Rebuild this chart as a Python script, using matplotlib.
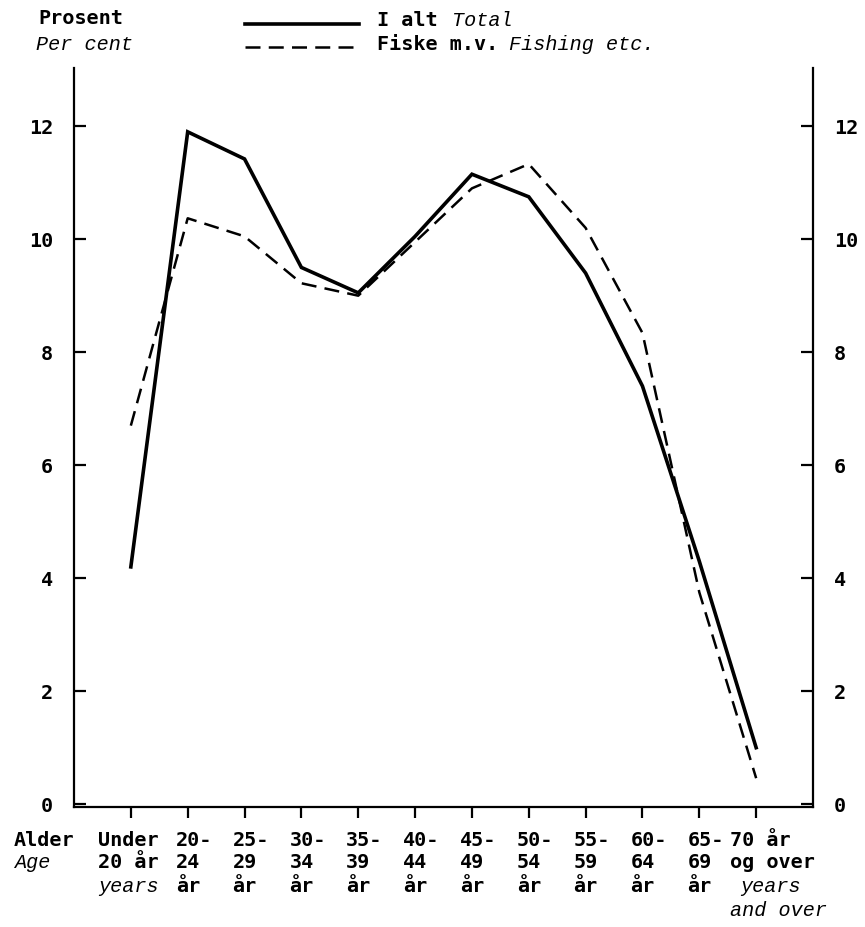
import matplotlib.pyplot as plt
import matplotlib.transforms as mtransforms

# age groups, one list of text lines per group (Norwegian + English)
age_lines = [
    ["Under", "20 år", "years"],
    ["20-", "24", "år"],
    ["25-", "29", "år"],
    ["30-", "34", "år"],
    ["35-", "39", "år"],
    ["40-", "44", "år"],
    ["45-", "49", "år"],
    ["50-", "54", "år"],
    ["55-", "59", "år"],
    ["60-", "64", "år"],
    ["65-", "69", "år"],
    ["70 år", "og over", "years", "and over"],
]
english_words = {"years", "and over"}

total = [4.2, 11.9, 11.42, 9.5, 9.05, 10.05, 11.15, 10.75, 9.4, 7.4, 4.3, 1.0]
fishing = [6.7, 10.37, 10.05, 9.22, 9.0, 9.95, 10.9, 11.33, 10.2, 8.34, 3.75, 0.46]

y_ticks = [0, 2, 4, 6, 8, 10, 12]

MONO = "DejaVu Sans Mono"
ITAL = "Liberation Mono"
FS = 14.5
DASH = (6, 3.3)


def main():
    W, H = 865, 927
    fig = plt.figure(figsize=(W / 100, H / 100), dpi=100)
    ax = fig.add_axes([74 / W, 1 - 807 / H, (813 - 74) / W, (807 - 68) / H])

    x = list(range(len(age_lines)))
    ax.plot(x, total, color="black", lw=2.6, solid_joinstyle="miter")
    ax.plot(x, fishing, color="black", lw=1.8, dashes=DASH)

    ax.set_xlim(-1, 12)
    ax.set_ylim(-0.05, 13.03)

    ax.spines["top"].set_visible(False)
    for s in ("left", "right", "bottom"):
        ax.spines[s].set_linewidth(1.6)

    ax.set_yticks(y_ticks)
    ax.set_yticklabels([str(v) for v in y_ticks], fontfamily=MONO,
                       fontsize=FS, fontweight="bold")
    ax.tick_params(axis="y", direction="in", length=8.5, width=1.6,
                   left=True, right=True, labelleft=True, labelright=True,
                   pad=15)

    ax.set_xticks(x)
    ax.set_xticklabels([])
    ax.tick_params(axis="x", direction="out", length=8, width=1.6)

    # category labels under the ticks
    trans = ax.get_xaxis_transform()
    row_y = [840, 863, 886, 910]
    for i, lines in enumerate(age_lines):
        if i == 0:
            dx = -33
        elif i == len(age_lines) - 1:
            dx = -26
        else:
            dx = -12
        t = mtransforms.offset_copy(trans, fig=fig, x=dx * 0.72, y=0, units="points")
        for j, txt in enumerate(lines):
            yy = (807 - row_y[j]) / 739
            italic = txt in english_words and j >= 2
            extra = 0
            if i == len(age_lines) - 1 and txt == "years":
                extra = 10
            t2 = mtransforms.offset_copy(t, fig=fig, x=extra * 0.72, y=0, units="points")
            if italic:
                ax.text(i, yy, txt, transform=t2, ha="left", va="center",
                        fontsize=FS, fontfamily=ITAL, fontstyle="italic",
                        clip_on=False)
            else:
                ax.text(i, yy, txt, transform=t2, ha="left", va="center",
                        fontsize=FS, fontfamily=MONO, fontweight="bold",
                        clip_on=False)

    # axis titles
    fig.text(14 / W, 1 - 840 / H, "Alder", fontfamily=MONO, fontsize=FS,
             fontweight="bold", ha="left", va="center")
    fig.text(14 / W, 1 - 863 / H, "Age", fontfamily=ITAL, fontstyle="italic",
             fontsize=FS, ha="left", va="center")
    fig.text(38 / W, 1 - 18 / H, "Prosent", fontfamily=MONO, fontsize=FS,
             fontweight="bold", ha="left", va="center")
    fig.text(36 / W, 1 - 45 / H, "Per cent", fontfamily=ITAL, fontstyle="italic",
             fontsize=FS, ha="left", va="center")

    # legend drawn by hand
    fig.add_artist(plt.Line2D([245 / W, 359 / W], [1 - 24 / H, 1 - 24 / H],
                              color="black", lw=2.6))
    fig.add_artist(plt.Line2D([245 / W, 359 / W], [1 - 47 / H, 1 - 47 / H],
                              color="black", lw=1.8, dashes=DASH))
    fig.text(377 / W, 1 - 20 / H, "I alt", fontfamily=MONO, fontsize=FS,
             fontweight="bold", ha="left", va="center")
    fig.text(452 / W, 1 - 20 / H, "Total", fontfamily=ITAL, fontstyle="italic",
             fontsize=FS, ha="left", va="center")
    fig.text(377 / W, 1 - 44 / H, "Fiske m.v.", fontfamily=MONO, fontsize=FS,
             fontweight="bold", ha="left", va="center")
    fig.text(509 / W, 1 - 44 / H, "Fishing etc.", fontfamily=ITAL,
             fontstyle="italic", fontsize=FS, ha="left", va="center")

    fig.savefig("out.png", dpi=100)


if __name__ == "__main__":
    main()
